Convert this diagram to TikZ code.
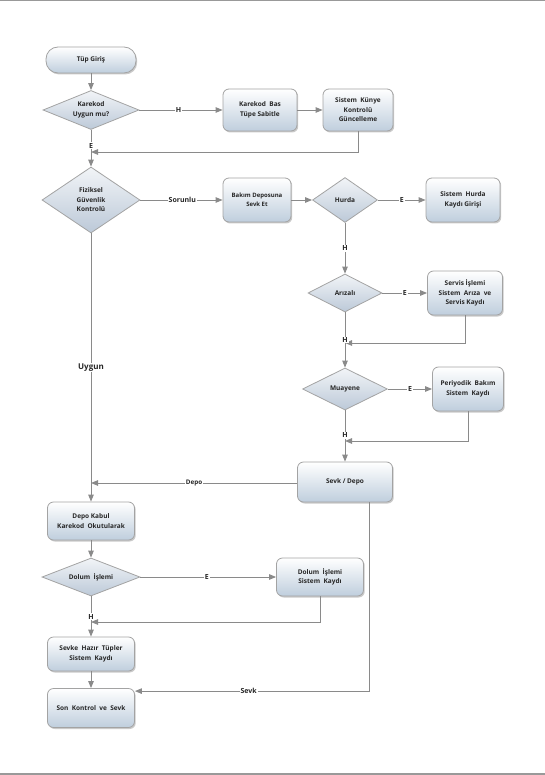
\documentclass[tikz,border=0pt]{standalone}
\usepackage{fontspec}
\setmainfont{Open Sans}
\usetikzlibrary{shapes.geometric,arrows.meta,shadows}
\definecolor{lnc}{HTML}{8A8A8A}
\definecolor{bdc}{HTML}{A3A3A3}
\definecolor{shb}{HTML}{BFCEDD}
\definecolor{dsh}{HTML}{BCC9D8}
\definecolor{txc}{HTML}{262626}
\begin{document}
\begin{tikzpicture}[x=1pt,y=-1pt,
  box/.style={draw=bdc, line width=0.8pt, rounded corners=6pt, top color=white, bottom color=shb,
    drop shadow={shadow xshift=1.2pt, shadow yshift=-1.5pt, opacity=0.35, fill=black!60},
    align=center, font=\fontsize{6.5}{9.5}\selectfont\bfseries, text=txc, inner sep=0pt},
  dia/.style={diamond, draw=bdc, line width=0.8pt, top color=white!80!dsh, bottom color=dsh, inner sep=0pt},
  dtxt/.style={align=center, font=\fontsize{6.5}{9.5}\selectfont\bfseries, text=txc, inner sep=0pt},
  arr/.style={draw=lnc, line width=0.9pt, -{Triangle[length=7pt,width=5.5pt]}},
  lbl/.style={fill=white, inner sep=1pt, font=\fontsize{7}{8}\selectfont\bfseries, text=txc}]
\useasboundingbox (0,0) rectangle (545,775);
\fill[black!40] (0,0) rectangle (545,1.5);
\fill[black!40] (0,773) rectangle (545,775);

% nodes
\node[box, rounded corners=12pt, minimum width=90, minimum height=26] (tup) at (91,60) {Tüp Giriş};
\node[dia, minimum width=96, minimum height=39] (d1) at (91,110) {};
\node[dtxt] (d1t) at (d1) {Karekod\\Uygun mu?};
\node[box, minimum width=74, minimum height=42] (kb) at (260,110) {Karekod\ \ Bas\\Tüpe\ Sabitle};
\node[box, minimum width=70, minimum height=42] (ky) at (358,110) {Sistem\ \ Künye\\Kontrolü\\Güncelleme};

\node[dia, minimum width=98, minimum height=66] (fz) at (91,200) {};
\node[dtxt] (fzt) at (fz) {Fiziksel\\Güvenlik\\Kontrolü};
\node[box, minimum width=68, minimum height=44, font=\fontsize{6}{9}\selectfont\bfseries] (bk) at (257,200) {Bakım\ Deposuna\\Sevk\ Et};
\node[dia, minimum width=65, minimum height=45] (hu) at (345,200) {};
\node[dtxt] (hut) at (hu) {Hurda};
\node[box, minimum width=74, minimum height=44] (hk) at (463,200) {Sistem\ \ Hurda\\Kaydı\ Girişi};

\node[dia, minimum width=74, minimum height=38] (ar) at (345,293) {};
\node[dtxt] (art) at (ar) {Arızalı};
\node[box, minimum width=75, minimum height=44] (sv) at (465,293) {Servis\ İşlemi\\Sistem\ \ Arıza\ \ ve\\Servis\ Kaydı};

\node[dia, minimum width=85, minimum height=42] (mu) at (345,389) {};
\node[dtxt] (mut) at (mu) {Muayene};
\node[box, minimum width=71, minimum height=44] (pb) at (468,389) {Periyodik\ \ Bakım\\Sistem\ \ Kaydı};

\node[box, minimum width=95, minimum height=40] (sd) at (345,482) {Sevk\ /\ Depo};

\node[box, minimum width=87, minimum height=38] (dk) at (91,521) {Depo\ Kabul\\Karekod\ \ Okutularak};
\node[dia, minimum width=98, minimum height=38] (dl) at (91,577) {};
\node[dtxt] (dlt) at (dl) {Dolum\ \ İşlemi};
\node[box, minimum width=87, minimum height=38] (dsk) at (320,577) {Dolum\ \ İşlemi\\Sistem\ \ Kaydı};
\node[box, minimum width=87, minimum height=34] (sh) at (91,654) {Sevke\ \ Hazır\ \ Tüpler\\Sistem\ \ Kaydı};
\node[box, minimum width=87, minimum height=39] (sk) at (91,708) {Son\ \ Kontrol\ \ ve\ \ Sevk};

% junctions
\coordinate (j1) at (91,152);
\coordinate (j2) at (345,343);
\coordinate (j3) at (345,441);
\coordinate (j4) at (91,483);
\coordinate (j5) at (91,622);

% connectors
\draw[arr] (tup) -- (d1);
\draw[arr] (d1.east) -- node[lbl, pos=0.47] {H} (kb.west);
\draw[arr] (kb.east) -- (ky.west);
\draw[arr] (ky.south) |- (j1);
\draw[arr] (d1.south) -- node[lbl, pos=0.43] {E} (fz.north);

\draw[arr] (fz.east) -- node[lbl, pos=0.51] {Sorunlu} (bk.west);
\draw[arr] (bk.east) -- (hu.west);
\draw[arr] (hu.east) -- node[lbl, pos=0.5] {E} (hk.west);
\draw[arr] (hu.south) -- node[lbl, pos=0.5] {H} (ar.north);
\draw[arr] (ar.east) -- node[lbl, pos=0.5] {E} (sv.west);
\draw[arr] (sv.south) |- (j2);
\draw[arr] (ar.south) -- node[lbl, pos=0.5] {H} (mu.north);
\draw[arr] (mu.east) -- node[lbl, pos=0.5] {E} (pb.west);
\draw[arr] (pb.south) |- (j3);
\draw[arr] (mu.south) -- node[lbl, pos=0.49] {H} (sd.north);
\draw[arr] (sd.west |- j4) -- node[lbl, pos=0.5, font=\fontsize{6.3}{8}\selectfont\bfseries] {Depo} (j4);

\draw[arr] (fz.south) -- node[lbl, pos=0.5, font=\fontsize{8}{9}\selectfont\bfseries] {Uygun} (dk.north);
\draw[arr] (dk.south) -- (dl.north);
\draw[arr] (dl.east) -- node[lbl, pos=0.49] {E} (dsk.west);
\draw[arr] (dsk.south) |- (j5);
\draw[arr] (dl.south) -- node[lbl, pos=0.51] {H} (sh.north);
\draw[arr] (sh.south) -- (sk.north);
\draw[arr] ([xshift=24pt]sd.south) |- node[lbl, pos=0.757] {Sevk} ([yshift=-3pt]sk.north east);
\end{tikzpicture}
\end{document}
